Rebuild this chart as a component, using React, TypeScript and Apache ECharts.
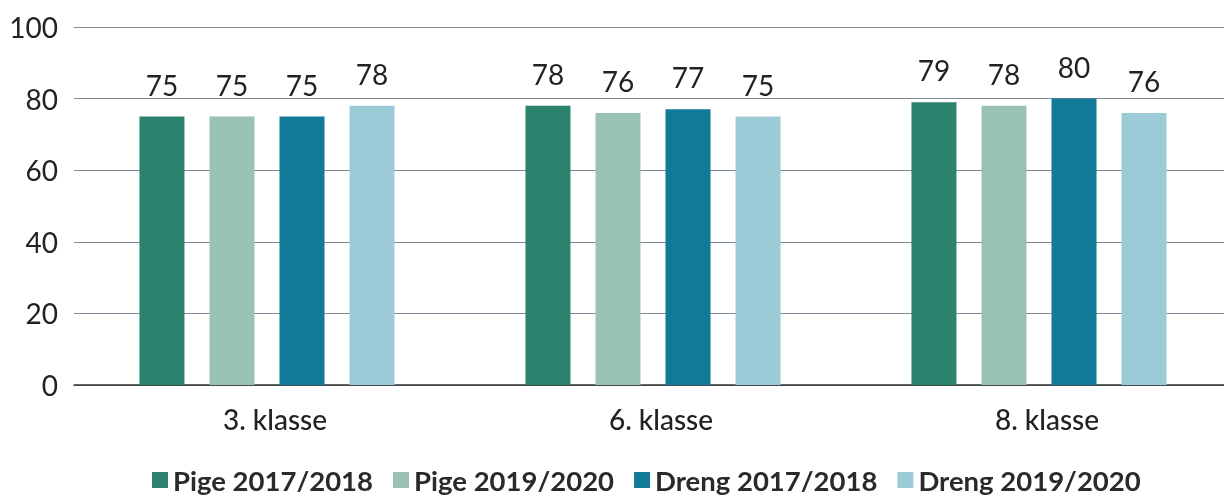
import React, { useEffect, useRef } from "react";
import * as echarts from "echarts";

const categories = ["3. klasse", "6. klasse", "8. klasse"];
const seriesNames = ["Pige 2017/2018", "Pige 2019/2020", "Dreng 2017/2018", "Dreng 2019/2020"];
const pige1718 = [75, 78, 79];
const pige1920 = [75, 76, 78];
const dreng1718 = [75, 77, 80];
const dreng1920 = [78, 75, 76];
const colors = ["#2b826d", "#99c1b6", "#107a98", "#9ccbd7"];

export default function App() {
  const ref = useRef<HTMLDivElement>(null);
  useEffect(() => {
    if (!ref.current) return;
    const chart = echarts.init(ref.current, null, { renderer: "svg" });
    const values = [pige1718, pige1920, dreng1718, dreng1920];
    const font = "Lato, 'Noto Sans', sans-serif";
    chart.setOption({
      animation: false,
      textStyle: { fontFamily: font },
      legend: {
        bottom: -4,
        left: 147,
        itemWidth: 16,
        itemHeight: 16,
        itemGap: 20,
        icon: "rect",
        textStyle: { fontSize: 27.5, fontWeight: "bold", color: "#2a2a2a", fontFamily: font },
        data: seriesNames,
      },
      grid: {
        left: 74,
        width: 1158,
        top: 27,
        bottom: 110,
        containLabel: false,
        outerBoundsMode: "none",
      },
      xAxis: {
        type: "category",
        data: categories,
        axisLine: { lineStyle: { color: "#333", width: 1.5 } },
        axisTick: { show: false },
        axisLabel: {
          fontSize: 28,
          color: "#222",
          margin: 20,
          fontWeight: 500,
          fontFamily: font,
          padding: [0, 0, 0, 16],
        },
      },
      yAxis: {
        type: "value",
        min: 0,
        max: 100,
        interval: 20,
        axisLine: { show: false },
        axisTick: { show: false },
        axisLabel: { fontSize: 28, color: "#222", margin: 16, fontFamily: font },
        splitLine: { lineStyle: { color: "#7f8b98", width: 1 } },
      },
      series: seriesNames.map((name, i) => ({
        name,
        type: "bar",
        data: values[i],
        barWidth: 45,
        barGap: "55.6%",
        itemStyle: { color: colors[i] },
        label: {
          show: true,
          position: "top",
          distance: 18,
          fontSize: 28,
          color: "#222",
          fontFamily: font,
        },
      })),
    });
    return () => chart.dispose();
  }, []);
  return (
    <div
      ref={ref}
      style={{ position: "fixed", left: 0, top: 0, width: 1224, height: 495 }}
    />
  );
}
